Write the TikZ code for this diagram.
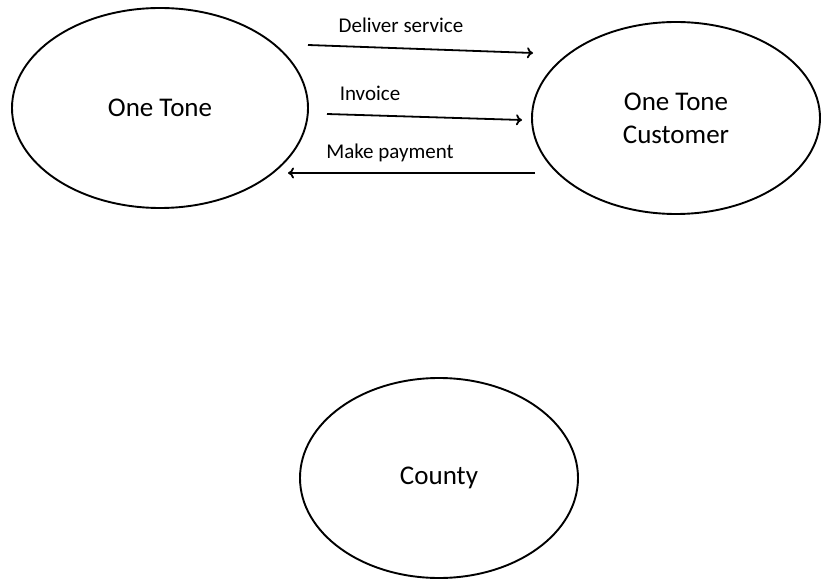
\documentclass[tikz,border=0pt]{standalone}
\usepackage{fontspec}
\setmainfont{Carlito}
\usetikzlibrary{shapes.geometric,arrows.meta}
\begin{document}
\begin{tikzpicture}[x=1pt,y=-1pt,
  ent/.style={draw=black,line width=1.9pt,ellipse,inner sep=0pt,align=center,
    font=\fontsize{27}{33}\selectfont},
  flow/.style={draw=black,line width=1.8pt,-{To[length=6pt,width=11pt]}},
  lbl/.style={font=\fontsize{21}{24}\selectfont,inner sep=0pt}]
\useasboundingbox (0,0) rectangle (822,585);
\node[ent,minimum width=296pt,minimum height=200pt] (tone) at (160,108) {One Tone};
\node[ent,minimum width=288pt,minimum height=192pt] (cust) at (676,118) {One Tone\\Customer};
\node[ent,minimum width=278pt,minimum height=200pt] (county) at (439,478) {County};
\coordinate (d1) at (308,45);
\coordinate (d2) at (533,53);
\coordinate (i1) at (327,114);
\coordinate (i2) at (522,120);
\coordinate (m1) at (535,173);
\coordinate (m2) at (288,173);
\draw[flow] (d1) -- (d2);
\draw[flow] (i1) -- (i2);
\draw[flow] (m1) -- (m2);
\node[lbl] (ld) at (401,25) {Deliver service};
\node[lbl] (li) at (370,93) {Invoice};
\node[lbl] (lm) at (390,153) {Make payment};
\end{tikzpicture}
\end{document}
